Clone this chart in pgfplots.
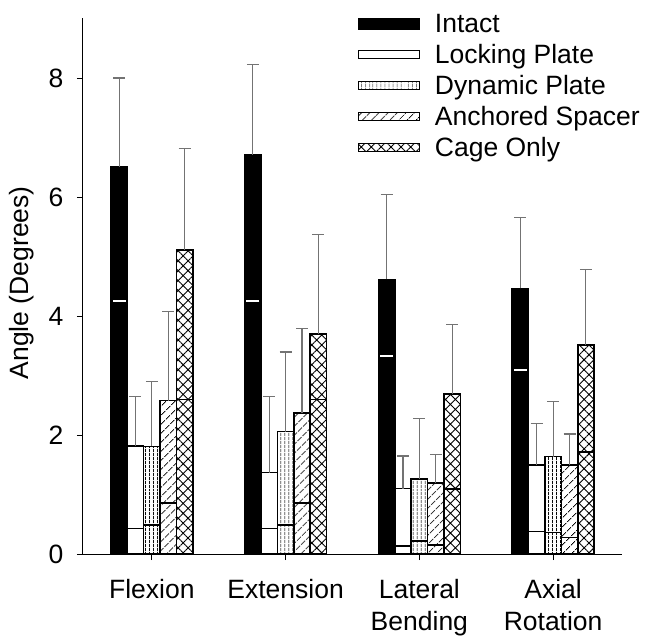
\documentclass[border=0pt]{standalone}
\usepackage{fontspec}
\setmainfont{Liberation Sans}
\usepackage{pgfplots}
\usepackage{pgfplotstable}
\pgfplotsset{compat=1.18}
\usetikzlibrary{patterns.meta}
\newcommand{\fs}{\fontsize{26.5}{32}\selectfont}

\pgfplotstableread{
x mean err inner
0 6.52 1.49 4.26
1 6.72 1.51 4.26
2 4.62 1.43 3.33
3 4.47 1.20 3.10
}\intact
\pgfplotstableread{
x mean err inner
0 1.82 0.83 0.43
1 1.37 1.28 0.43
2 1.10 0.55 0.13
3 1.50 0.69 0.38
}\locking
\pgfplotstableread{
x mean err inner
0 1.81 1.10 0.49
1 2.06 1.34 0.49
2 1.26 1.02 0.22
3 1.64 0.93 0.36
}\dynamic
\pgfplotstableread{
x mean err inner
0 2.58 1.50 0.86
1 2.37 1.42 0.86
2 1.19 0.49 0.15
3 1.50 0.52 0.28
}\anchored
\pgfplotstableread{
x mean err inner
0 5.12 1.70 2.60
1 3.70 1.68 2.60
2 2.69 1.17 1.09
3 3.52 1.27 1.72
}\cage

\begin{document}
\begin{tikzpicture}
\begin{axis}[
  scale only axis, width=539pt, height=536pt,
  xmin=-0.515, xmax=3.515, ymin=0, ymax=9.02,
  axis x line*=bottom, axis y line*=left,
  axis line style={-, line width=1pt, black},
  xtick={0,1,2,3},
  xticklabels={Flexion,Extension,{Lateral\\Bending},{Axial\\Rotation}},
  ytick={0,2,4,6,8},
  tick align=outside, major tick length=6pt,
  tick style={black, line width=1pt},
  /pgf/number format/assume math mode=true,
  ticklabel style={font=\fs},
  xticklabel style={align=center, yshift=-16pt},
  yticklabel style={xshift=-10pt},
  ylabel={Angle (Degrees)},
  ylabel style={font=\fs, at={(axis description cs:-0.113,0.506)}, anchor=center},
  legend style={at={(axis description cs:0.509,1)}, anchor=north west, yshift=8pt,
    draw=none, fill=none, inner sep=0pt, font=\fs,
    nodes={inner xsep=8.5pt, inner ysep=3pt, text height=19pt, text depth=6pt}},
  legend cell align=left,
  legbox/.style={legend image code/.code={\draw[##1, line width=1.4pt] (0pt,-2pt) rectangle (61pt,6pt); \path (68pt,0pt);}},
  mybar/.style={ybar, bar width=16.4pt, bar shift=0pt, draw=black, line width=1.6pt, forget plot,
    error bars/y dir=plus, error bars/y explicit,
    error bars/error bar style={black!55, line width=1.1pt},
    error bars/error mark options={black!55, rotate=90, mark size=6pt, line width=1.1pt}},
  inl/.style={only marks, mark=-, mark size=8.2pt, forget plot, mark options={black, line width=1.6pt}},
]
\addplot[mybar, xshift=-32.8pt, fill=black]
  table[x=x, y=mean, y error=err]{\intact};
\addplot[mybar, xshift=-16.4pt, fill=white]
  table[x=x, y=mean, y error=err]{\locking};
\addplot[mybar, xshift=0pt, pattern={Lines[angle=90, distance=4pt, line width=0.9pt]}]
  table[x=x, y=mean, y error=err]{\dynamic};
\addplot[mybar, xshift=16.4pt, pattern={Lines[angle=45, distance=6.5pt, line width=0.9pt]}]
  table[x=x, y=mean, y error=err]{\anchored};
\addplot[mybar, xshift=32.8pt, pattern={Hatch[angle=45, distance=7pt, line width=0.9pt]}]
  table[x=x, y=mean, y error=err]{\cage};

\addplot[only marks, mark=-, mark size=6.5pt, forget plot, xshift=-32.8pt,
  mark options={white, line width=1.6pt}] table[x=x, y=inner]{\intact};
\addplot[inl, xshift=-16.4pt] table[x=x, y=inner]{\locking};
\addplot[inl, xshift=0pt] table[x=x, y=inner]{\dynamic};
\addplot[inl, xshift=16.4pt] table[x=x, y=inner]{\anchored};
\addplot[inl, xshift=32.8pt] table[x=x, y=inner]{\cage};

\addlegendimage{legend image code/.code={\fill[black] (0pt,-3.5pt) rectangle (61pt,7.5pt); \path (68pt,0pt);}}
\addlegendimage{legbox, draw=black, fill=white}
\addlegendimage{legbox, draw=black, pattern={Lines[angle=90, distance=4pt, line width=0.9pt]}}
\addlegendimage{legbox, draw=black, pattern={Lines[angle=45, distance=6.5pt, line width=0.9pt]}}
\addlegendimage{legbox, draw=black, pattern={Hatch[angle=45, distance=7pt, line width=0.9pt]}}
\legend{Intact, Locking Plate, Dynamic Plate, Anchored Spacer, Cage Only}
\end{axis}
\pgfresetboundingbox
\path[use as bounding box] (current axis.south west) ++(-83pt,-83pt) rectangle ++(645pt,637pt);
\end{tikzpicture}
\end{document}
